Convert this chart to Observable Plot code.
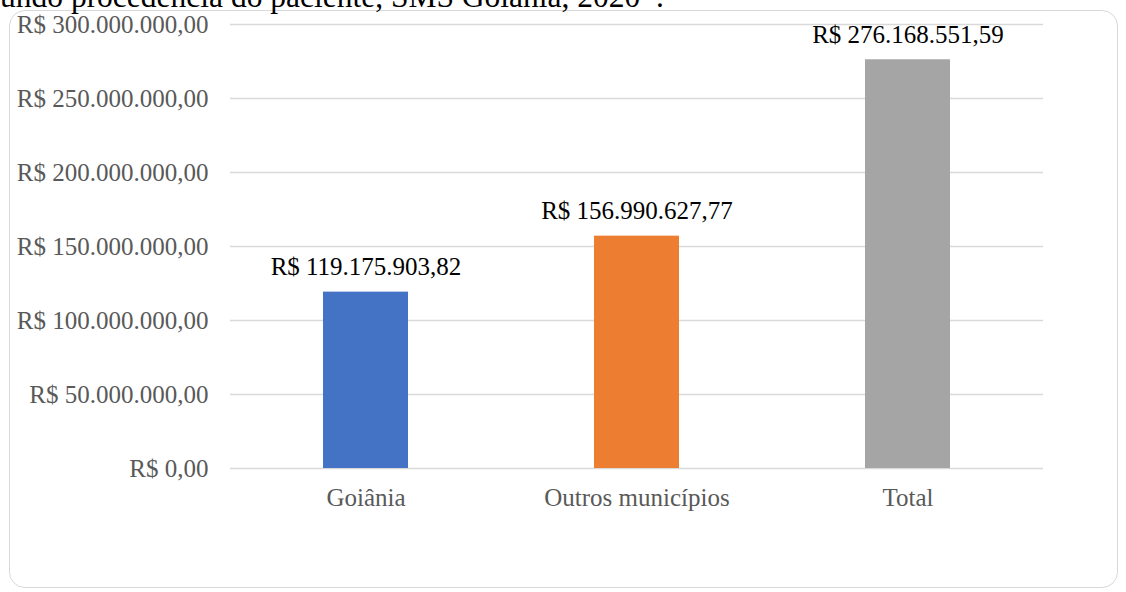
<!DOCTYPE html>
<html>
<head>
<meta charset="utf-8">
<script src="https://cdn.jsdelivr.net/npm/d3@7"></script>
<script src="https://cdn.jsdelivr.net/npm/@observablehq/plot@0.6"></script>
<style>
  html, body { margin: 0; padding: 0; background: #fff; overflow: hidden; }
  #wrap { position: relative; width: 1126px; height: 592px; overflow: hidden; }
  #frame { position: absolute; left: 9px; top: 10px; width: 1109px; height: 578px;
           border: 1.5px solid #d9d9d9; border-radius: 16px; box-sizing: border-box; }
  #title { position: absolute; left: 0; top: -19px; font-family: "Liberation Serif", serif;
           font-size: 31.5px; color: #000; white-space: nowrap; line-height: 32px; }
  #chart { position: absolute; left: 0; top: 0; }
</style>
</head>
<body>
<div id="wrap">
  <div id="frame"></div>
  <div id="chart"></div>
  <div id="title">undo procedência do paciente, SMS Goiânia, 2020*.</div>
</div>
<script>
const categories = ["Goiânia", "Outros municípios", "Total"];
const values = [119175903.82, 156990627.77, 276168551.59];
const colors = ["#4472C4", "#ED7D31", "#A5A5A5"];
const yTicks = [0, 50000000, 100000000, 150000000, 200000000, 250000000, 300000000];

const data = categories.map((c, i) => ({category: c, value: values[i], color: colors[i]}));
const locale = d3.formatLocale({decimal: ",", thousands: ".", grouping: [3], currency: ["R$ ", ""]});
const fmt = locale.format("$,.2f");

const chart = Plot.plot({
  width: 1126,
  height: 592,
  marginLeft: 230,
  marginRight: 83,
  marginTop: 24,
  marginBottom: 124,
  style: {fontFamily: "'Liberation Serif', serif", fontSize: "25px", background: "transparent"},
  x: {domain: categories, paddingInner: 0.686, paddingOuter: 0.343, label: null},
  y: {domain: [0, 300000000], label: null},
  marks: [
    Plot.gridY(yTicks, {stroke: "#d9d9d9", strokeOpacity: 1, strokeWidth: 1.5}),
    Plot.axisY(yTicks, {tickSize: 0, tickPadding: 22, tickFormat: fmt, fill: "#595959", fontSize: 25, label: null}),
    Plot.axisX({tickSize: 0, tickPadding: 20, fill: "#595959", fontSize: 25, label: null}),
    Plot.barY(data, {x: "category", y: "value", fill: "color"}),
    Plot.text(data, {x: "category", y: "value", text: d => fmt(d.value), lineAnchor: "bottom", dy: -17, fill: "#000", fontSize: 25})
  ]
});
document.getElementById("chart").appendChild(chart);
</script>
</body>
</html>
